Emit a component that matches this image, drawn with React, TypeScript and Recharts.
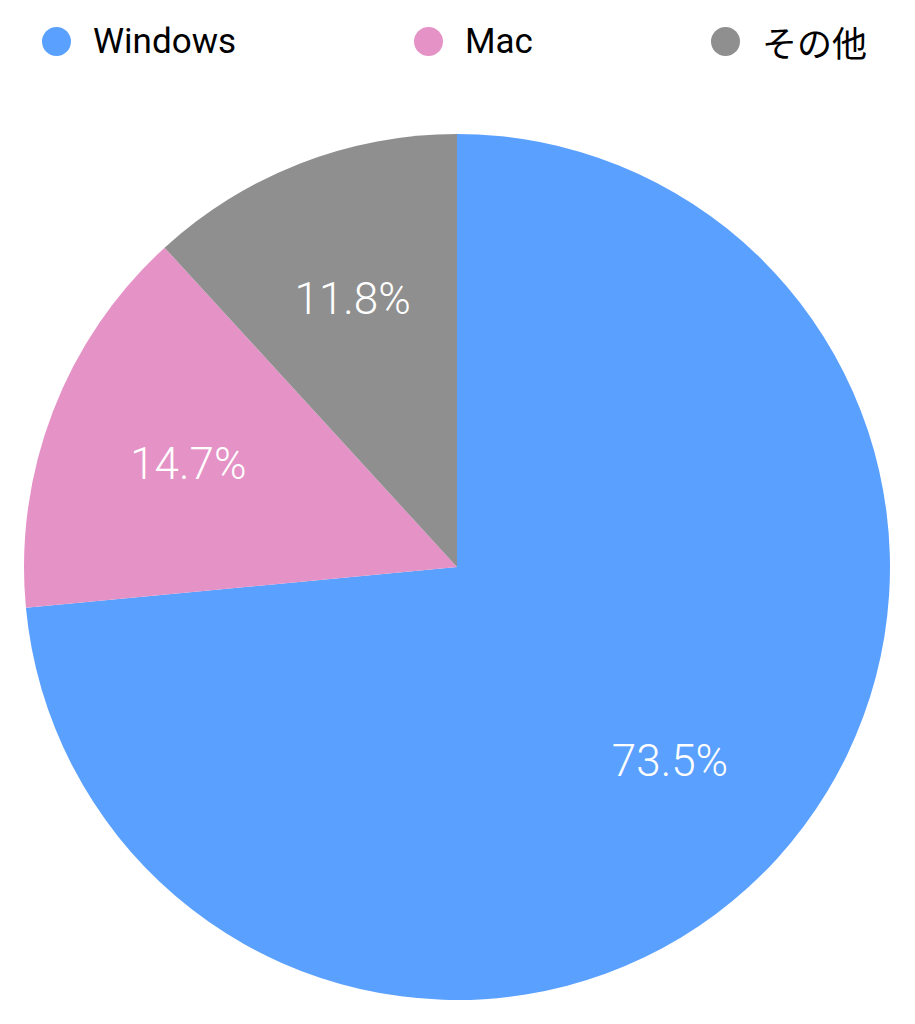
import React from 'react';
import { PieChart, Pie, Cell, Legend } from 'recharts';

const osNames = ['Windows', 'Mac', 'その他'];
const osShares = [73.5, 14.7, 11.8];
const osColors = ['#5AA0FF', '#E592C6', '#8F8F8F'];

const data = osNames.map((name, i) => ({ name, value: osShares[i] }));

const RADIAN = Math.PI / 180;
const FONT = 'Roboto, "Noto Sans CJK JP", sans-serif';

const renderLabel = ({ cx, cy, midAngle, outerRadius, value }: any) => {
	const r = outerRadius * 0.665;
	const x = cx + r * Math.cos(-midAngle * RADIAN);
	const y = cy + r * Math.sin(-midAngle * RADIAN);
	return (
		<text
			x={x}
			y={y}
			fill='#fff'
			textAnchor='middle'
			dominantBaseline='central'
			fontSize={44}
			fontWeight={300}
			fontFamily={FONT}
		>
			{`${value.toFixed(1)}%`}
		</text>
	);
};

const renderLegend = () => (
	<div
		style={{
			display: 'flex',
			justifyContent: 'center',
			gap: 178,
			height: 84,
			paddingTop: 26,
			paddingRight: 6,
			boxSizing: 'border-box',
			fontFamily: FONT,
			fontSize: 35,
			color: '#000',
		}}
	>
		{osNames.map((name, i) => (
			<div key={name} style={{ display: 'flex', alignItems: 'center', height: 30 }}>
				<span
					style={{
						width: 29,
						height: 29,
						borderRadius: '50%',
						background: osColors[i],
						marginRight: 22,
						display: 'inline-block',
					}}
				/>
				<span>{name}</span>
			</div>
		))}
	</div>
);

export default function App() {
	return (
		<div style={{ position: 'absolute', left: 0, top: 0, width: 915, height: 1024, background: '#fff' }}>
			<PieChart width={915} height={1024} margin={{ top: 0, right: 0, bottom: 0, left: 0 }}>
				<Legend verticalAlign='top' content={renderLegend} />
				<Pie
					data={data}
					dataKey='value'
					cx={457}
					cy={483}
					outerRadius={433}
					startAngle={90}
					endAngle={-270}
					stroke='none'
					label={renderLabel}
					labelLine={false}
					isAnimationActive={false}
				>
					{data.map((d, i) => (
						<Cell key={d.name} fill={osColors[i]} />
					))}
				</Pie>
			</PieChart>
		</div>
	);
}
